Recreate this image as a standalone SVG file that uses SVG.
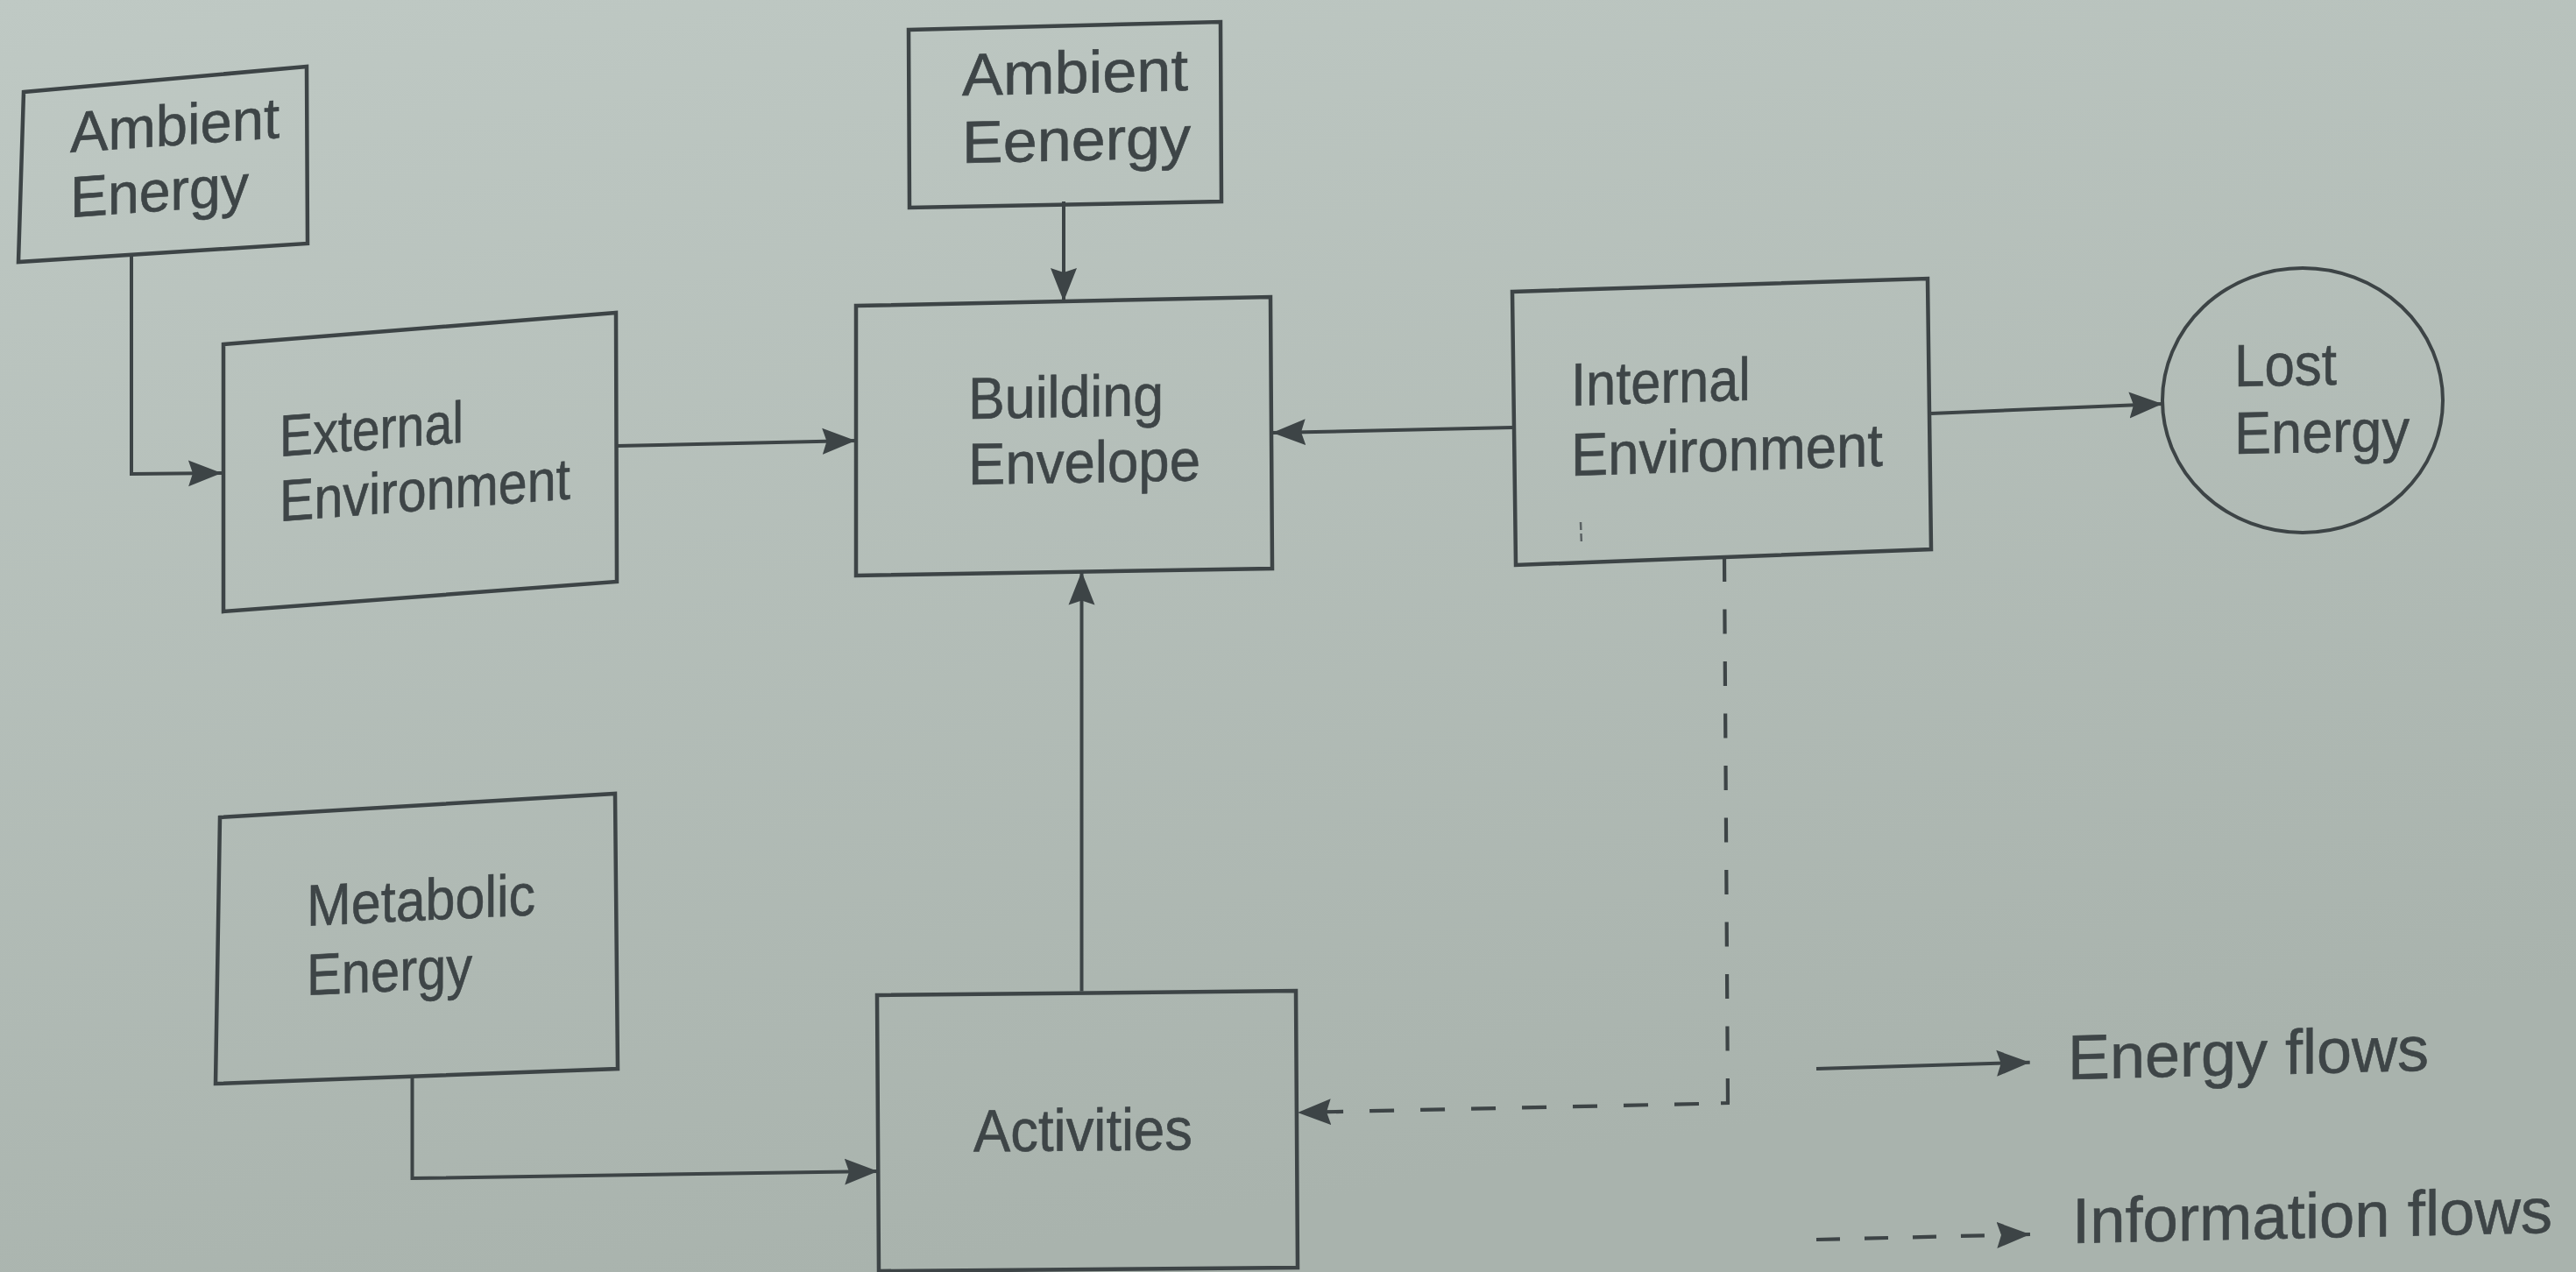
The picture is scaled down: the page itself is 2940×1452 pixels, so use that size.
<svg xmlns="http://www.w3.org/2000/svg" width="2940" height="1452" viewBox="0 0 2940 1452">
<defs>
<linearGradient id="bg" x1="0" y1="0" x2="0.35" y2="1">
<stop offset="0" stop-color="#bfc9c4"/>
<stop offset="1" stop-color="#a9b3ad"/>
</linearGradient>
<marker id="ah" markerUnits="userSpaceOnUse" markerWidth="40" markerHeight="34" refX="38" refY="16" viewBox="0 0 40 34" orient="auto">
<path d="M0,1 L38,16 L0,31 L5,16 Z" fill="#3d4446" stroke="none"/>
</marker>
<style>
.box{fill:none;stroke:#3d4446;stroke-width:4.5;stroke-linejoin:miter}
.lbl{font-family:'Liberation Sans',Arial,sans-serif;fill:#3e4547;stroke:#3e4547;stroke-width:0.6}
.c{fill:none;stroke:#3d4446;stroke-width:4}
.d{fill:none;stroke:#3d4446;stroke-width:4.2;stroke-dasharray:28 30}
</style>
</defs>
<rect width="2940" height="1452" fill="url(#bg)"/>

<g id="ambient-energy-1">
<polygon class="box" points="27,105 350,76 351,278 21,299"/>
<g transform="translate(80,174) skewY(-4)">
<text class="lbl" font-size="66" x="0" y="0" textLength="239" lengthAdjust="spacingAndGlyphs">Ambient</text>
<text class="lbl" font-size="66" x="0" y="74" textLength="204" lengthAdjust="spacingAndGlyphs">Energy</text>
</g>
</g>

<g id="external-environment">
<polygon class="box" points="255,393 703,357 704,664 255,698"/>
<g transform="translate(319,521) skewY(-4.4)">
<text class="lbl" font-size="67" x="0" y="0" textLength="210" lengthAdjust="spacingAndGlyphs">External</text>
<text class="lbl" font-size="67" x="0" y="74" textLength="332" lengthAdjust="spacingAndGlyphs">Environment</text>
</g>
</g>

<g id="ambient-energy-2">
<polygon class="box" points="1037,34 1393,25 1394,230 1038,237"/>
<g transform="translate(1098,109) skewY(-1.3)">
<text class="lbl" font-size="68" x="0" y="0" textLength="258" lengthAdjust="spacingAndGlyphs">Ambient</text>
<text class="lbl" font-size="68" x="0" y="77" textLength="261" lengthAdjust="spacingAndGlyphs">Eenergy</text>
</g>
</g>

<g id="building-envelope">
<polygon class="box" points="977,349 1450,339 1452,649 977,657"/>
<g transform="translate(1105,478) skewY(-1)">
<text class="lbl" font-size="67" x="0" y="0" textLength="223" lengthAdjust="spacingAndGlyphs">Building</text>
<text class="lbl" font-size="67" x="0" y="75" textLength="265" lengthAdjust="spacingAndGlyphs">Envelope</text>
</g>
</g>

<g id="internal-environment">
<polygon class="box" points="1726,333 2200,318 2204,627 1730,645"/>
<g transform="translate(1793,463) skewY(-1.8)">
<text class="lbl" font-size="69" x="0" y="0" textLength="205" lengthAdjust="spacingAndGlyphs">Internal</text>
<text class="lbl" font-size="69" x="0" y="80" textLength="356" lengthAdjust="spacingAndGlyphs">Environment</text>
</g>
<line x1="1804" y1="596" x2="1805" y2="622" stroke="#5a6163" stroke-width="2.5" stroke-dasharray="9 4"/>
</g>

<g id="lost-energy">
<ellipse cx="2628" cy="457" rx="160" ry="151" fill="none" stroke="#3d4446" stroke-width="4"/>
<g transform="translate(2550,441) skewY(-1)">
<text class="lbl" font-size="68" x="0" y="0" textLength="117" lengthAdjust="spacingAndGlyphs">Lost</text>
<text class="lbl" font-size="68" x="0" y="77" textLength="200" lengthAdjust="spacingAndGlyphs">Energy</text>
</g>
</g>

<g id="metabolic-energy">
<polygon class="box" points="251,933 702,906 705,1220 246,1237"/>
<g transform="translate(350,1057) skewY(-2.8)">
<text class="lbl" font-size="67" x="0" y="0" textLength="261" lengthAdjust="spacingAndGlyphs">Metabolic</text>
<text class="lbl" font-size="67" x="0" y="79" textLength="189" lengthAdjust="spacingAndGlyphs">Energy</text>
</g>
</g>

<g id="activities">
<polygon class="box" points="1001,1136 1479,1131 1481,1447 1003,1451"/>
<g transform="translate(1111,1314.5) skewY(-0.5)">
<text class="lbl" font-size="68" x="0" y="0" textLength="250" lengthAdjust="spacingAndGlyphs">Activities</text>
</g>
</g>

<g id="connectors">
<path class="c" d="M150,292 L150,541 L253,540" marker-end="url(#ah)"/>
<path class="c" d="M704,509 L976.5,503" marker-end="url(#ah)"/>
<path class="c" d="M1214,230 L1214,344" marker-end="url(#ah)"/>
<path class="c" d="M1726,488 L1452,494" marker-end="url(#ah)"/>
<path class="c" d="M2204,472 L2468,461" marker-end="url(#ah)"/>
<path class="c" d="M1234.5,1131.5 L1234.5,652.5" marker-end="url(#ah)"/>
<path class="c" d="M470.5,1228.5 L470.5,1345 L1002,1337" marker-end="url(#ah)"/>
<path class="d" d="M1968,636 L1972,1259" style="stroke-dasharray:28 31.5"/>
<path class="c" d="M1972,1248 L1972,1259 L1964,1259.2" stroke-width="4.2"/>
<path class="d" d="M1939,1260 L1481,1270" marker-end="url(#ah)"/>
</g>

<g id="legend">
<path class="c" d="M2073,1220 L2316.7,1212.7" marker-end="url(#ah)"/>
<path class="d" d="M2073,1415 L2317,1409" style="stroke-dasharray:27 28" marker-end="url(#ah)"/>
<g transform="translate(2360,1232) skewY(-1.4)">
<text class="lbl" font-size="72" x="0" y="0" textLength="412" lengthAdjust="spacingAndGlyphs">Energy flows</text>
</g>
<g transform="translate(2365,1419) skewY(-1.25)">
<text class="lbl" font-size="73" x="0" y="0" textLength="548" lengthAdjust="spacingAndGlyphs">Information flows</text>
</g>
</g>
</svg>
